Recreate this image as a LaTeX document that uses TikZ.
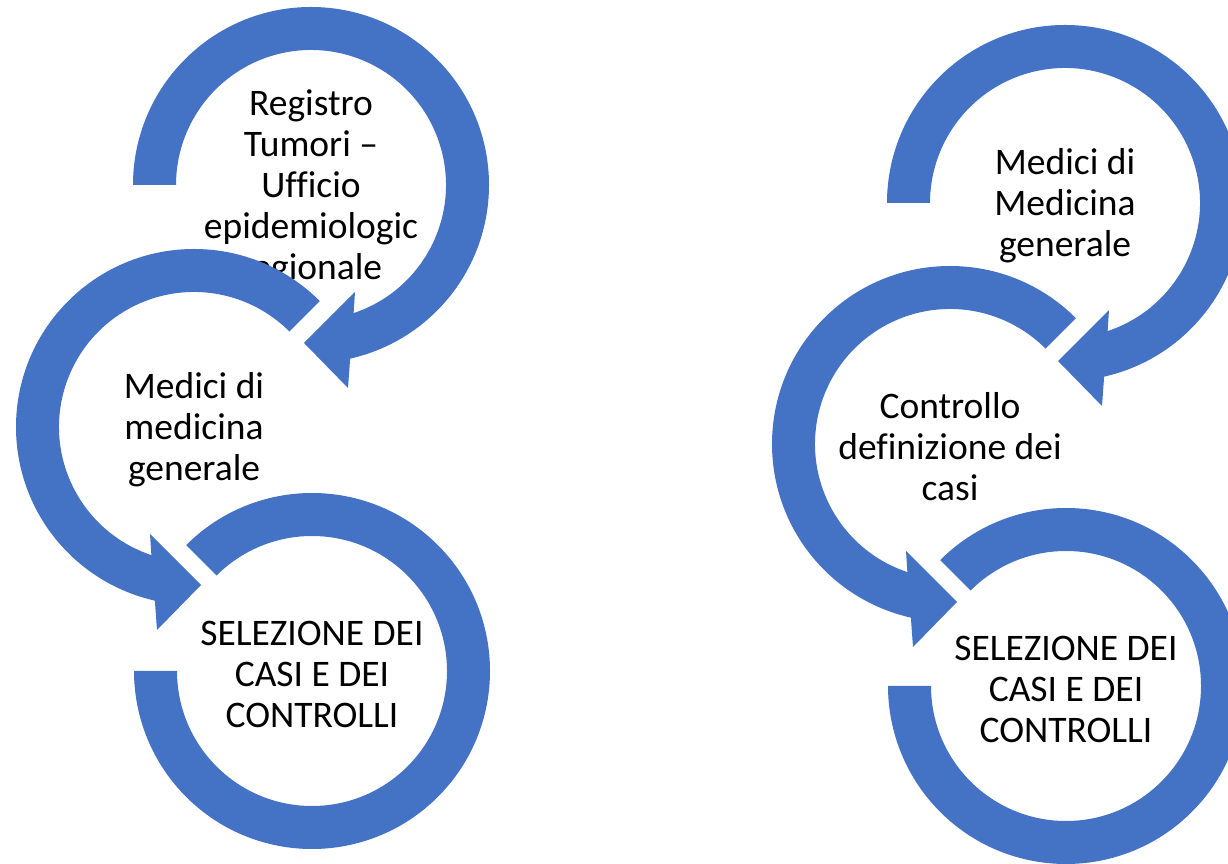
\documentclass[tikz,border=0pt]{standalone}
\usepackage{fontspec}
\setmainfont{Carlito}[Ligatures={NoCommon}]
\definecolor{RingBlue}{HTML}{4472C4}

\begin{document}
\begin{tikzpicture}[x=1pt,y=1pt]
  \tikzset{RingStyle/.style = {fill         = RingBlue}}
  \tikzset{TextStyle/.style = {align        = center,
                               text         = black,
                               inner sep    = 0pt,
                               yshift       = -3pt,
                               font         = \fontsize{37.5}{41}\selectfont}}
  % ring with arrow turning clockwise
  \tikzset{RingCW/.pic = {\fill[RingStyle] (180:178) arc[start angle=180, end angle=-77.3, radius=178]
      -- (37,-203) -- (-7,-158) -- (44,-107) -- (-71.6:135)
      arc[start angle=-71.6, end angle=180, radius=135] -- cycle;}}
  % ring with arrow turning counterclockwise
  \tikzset{RingCCW/.pic = {\fill[RingStyle] (45:178) arc[start angle=45, end angle=257.3, radius=178]
      -- (-37,-203) -- (7,-158) -- (-44,-107) -- (251.6:135)
      arc[start angle=251.6, end angle=45, radius=135] -- cycle;}}
  % last ring, no arrow
  \tikzset{RingEnd/.pic = {\fill[RingStyle] (135:178) arc[start angle=135, end angle=-180, radius=178]
      -- (180:135) arc[start angle=-180, end angle=135, radius=135] -- cycle;}}

  \clip (0,0) rectangle (1228,864);

     \coordinate (C_1) at (311,679);
     \coordinate (C_2) at (194,437);
     \coordinate (C_3) at (312,193);
     \coordinate (C_4) at (1065,661);
     \coordinate (C_5) at (950,420);
     \coordinate (C_6) at (1066,178);

     \pic at (C_1) {RingCW};
     \node[TextStyle] (T_1) at (C_1) {Registro\\Tumori –\\Ufficio\\epidemiologic\\regionale};
     \pic at (C_2) {RingCCW};
     \node[TextStyle] (T_2) at (C_2) {Medici di\\medicina\\generale};
     \pic at (C_3) {RingEnd};
     \node[TextStyle] (T_3) at (C_3) {SELEZIONE DEI\\CASI E DEI\\CONTROLLI};

     \pic at (C_4) {RingCW};
     \node[TextStyle] (T_4) at (C_4) {Medici di\\Medicina\\generale};
     \pic at (C_5) {RingCCW};
     \node[TextStyle] (T_5) at (C_5) {Controllo\\definizione dei\\casi};
     \pic at (C_6) {RingEnd};
     \node[TextStyle] (T_6) at (C_6) {SELEZIONE DEI\\CASI E DEI\\CONTROLLI};
\end{tikzpicture}
\end{document}
